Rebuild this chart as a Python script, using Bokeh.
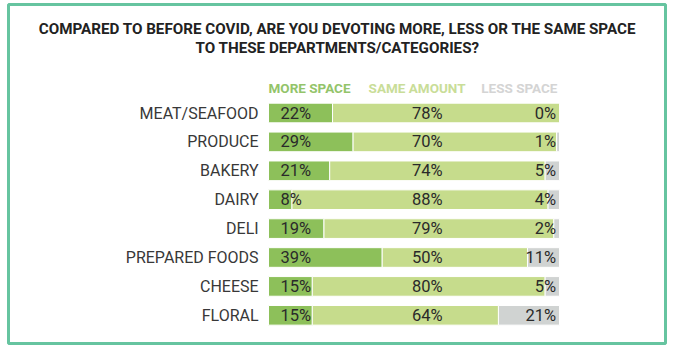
from bokeh.plotting import figure
from bokeh.models import ColumnDataSource, Range1d, Label, BoxAnnotation
from bokeh.core.properties import value
from bokeh.embed import file_html
from bokeh.resources import INLINE

categories = ["MEAT/SEAFOOD", "PRODUCE", "BAKERY", "DAIRY", "DELI",
              "PREPARED FOODS", "CHEESE", "FLORAL"]
more_space = [22, 29, 21, 8, 19, 39, 15, 15]
same_amount = [78, 70, 74, 88, 79, 50, 80, 64]
less_space = [0, 1, 5, 4, 2, 11, 5, 21]
series_names = ["MORE SPACE", "SAME AMOUNT", "LESS SPACE"]
title_lines = ["COMPARED TO BEFORE COVID, ARE YOU DEVOTING MORE, LESS OR THE SAME SPACE",
               "TO THESE DEPARTMENTS/CATEGORIES?"]

C_MORE = "#8dc05a"
C_SAME = "#c6dc8c"
C_LESS = "#d0d3d2"

W, H = 676, 354
# map: px = 268 + x*2.91 ; py = 112.5 + 28.9*i
x0 = -268 / 2.91
x1 = (W - 268) / 2.91
y_top = -112.5 / 28.9
y_bot = (H - 112.5) / 28.9

p = figure(width=W, height=H, output_backend="svg", toolbar_location=None,
           x_range=Range1d(x0, x1), y_range=Range1d(y_bot, y_top),
           min_border=0, min_border_left=0, min_border_right=0,
           min_border_top=0, min_border_bottom=0)
p.axis.visible = False
p.grid.visible = False
p.outline_line_color = None
p.background_fill_color = "white"
p.border_fill_color = "white"

idx = list(range(len(categories)))
more_end = more_space
same_end = [m + s for m, s in zip(more_space, same_amount)]
less_end = [m + s + l for m, s, l in zip(more_space, same_amount, less_space)]

src = ColumnDataSource(dict(
    y=idx, cat=categories,
    m0=[0] * len(idx), m1=more_end,
    s0=more_end, s1=same_end,
    l0=same_end, l1=less_end,
    mt=[f"{v}%" for v in more_space],
    st=[f"{v}%" for v in same_amount],
    lt=[f"{v}%" for v in less_space],
))

bh = 0.34
p.hbar(y="y", left="l0", right="l1", height=2 * bh, source=src,
       fill_color=C_LESS, line_color="white", line_width=1)
p.hbar(y="y", left="s0", right="s1", height=2 * bh, source=src,
       fill_color=C_SAME, line_color="white", line_width=1)
p.hbar(y="y", left="m0", right="m1", height=2 * bh, source=src,
       fill_color=C_MORE, line_color="white", line_width=1)

# category labels
p.text(x=-3.4, y="y", text="cat", source=src, text_align="right",
       text_baseline="middle", text_font=value("Roboto"),
       text_font_size="16px", text_color="#383838")
# value labels
p.text(x=4.1, y="y", text="mt", source=src, text_align="left",
       text_baseline="middle", text_font=value("Roboto"),
       text_font_size="16.5px", text_color="#2a2a2a")
p.text(x=54.6, y="y", text="st", source=src, text_align="center",
       text_baseline="middle", text_font=value("Roboto"),
       text_font_size="16.5px", text_color="#2a2a2a")
p.text(x=98.8, y="y", text="lt", source=src, text_align="right",
       text_baseline="middle", text_font=value("Roboto"),
       text_font_size="16.5px", text_color="#2a2a2a")

# header (legend-like) labels
hy = -0.85
hfont = value("Roboto")
p.text(x=[0], y=[hy], text=[series_names[0]], text_align="left",
       text_baseline="middle", text_font=hfont,
       text_font_style="bold", text_font_size="13.5px", text_color="#93c46a")
p.text(x=[34.4], y=[hy], text=[series_names[1]], text_align="left",
       text_baseline="middle", text_font=hfont,
       text_font_style="bold", text_font_size="13.5px", text_color="#c9dd98")
p.text(x=[99.3], y=[hy], text=[series_names[2]], text_align="right",
       text_baseline="middle", text_font=hfont,
       text_font_style="bold", text_font_size="13.5px", text_color="#d4d4d4")

# title
for t, py in zip(title_lines, [28, 47]):
    p.add_layout(Label(x=337, y=H - py, x_units="screen", y_units="screen",
                       text=t, text_align="center", text_baseline="middle",
                       text_font="Roboto", text_font_style="bold",
                       text_font_size="15.2px", text_color="#222222"))

# frame border
p.add_layout(BoxAnnotation(left=8, right=665, top=H - 4, bottom=H - 343,
                           left_units="screen", right_units="screen",
                           top_units="screen", bottom_units="screen",
                           fill_alpha=0, line_color="#66c4a0", line_alpha=1.0,
                           line_width=3))

open("out.html", "w").write(file_html(p, INLINE))
